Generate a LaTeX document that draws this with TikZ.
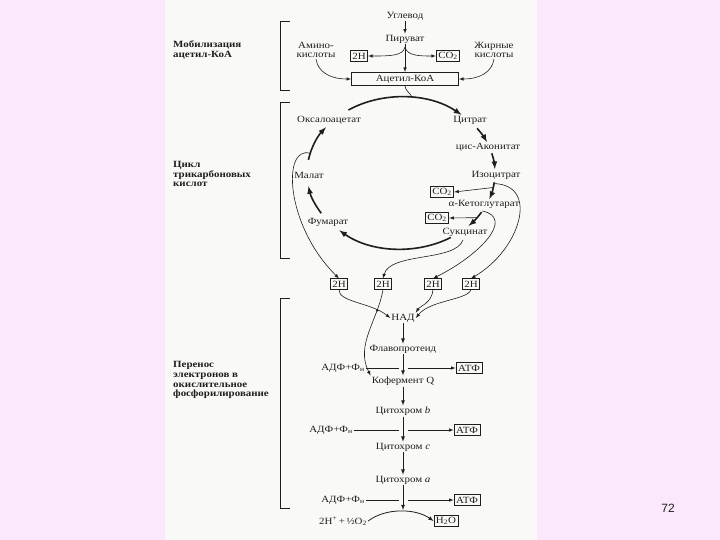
\documentclass[tikz,border=0pt]{standalone}
\usepackage{fontspec}
\setmainfont[FakeStretch=1.15]{Liberation Serif}
\newfontfamily\pagenumfont{Liberation Sans}
\usetikzlibrary{calc,intersections}
\definecolor{pagebg}{RGB}{252,232,252}
\definecolor{sheet}{RGB}{249,249,247}
\definecolor{ink}{RGB}{30,30,30}

\begin{document}
\begin{tikzpicture}[x=1pt, y=-1pt, >=latex,
	every node/.style={font=\fontsize{9.5}{9.5}\selectfont, text=ink, inner sep=1pt},
	lbl/.style={align=left, anchor=west, font=\bfseries\fontsize{9.5}{9.8}\selectfont},
	box/.style={draw=ink, line width=0.8pt, inner sep=2pt},
	thinline/.style={draw=ink, line width=0.6pt},
	thinarrow/.style={thinline, ->},
	cyc/.style={draw=ink, line width=1.6pt, ->},
	chain/.style={draw=ink, line width=0.8pt, ->},
	bracket/.style={draw=ink, line width=0.8pt}]
	% page
	\fill [pagebg] (0,0) rectangle (720,540);
	\fill [sheet] (165,0) rectangle (537,540);
	\node [font=\pagenumfont\fontsize{12}{12}\selectfont] (pnum) at (668,508) {72};

	% left labels and brackets
	\node [lbl] (lab1) at (172,50) {Мобилизация\\ацетил-КоА};
	\node [lbl] (lab2) at (172,174) {Цикл\\трикарбоновых\\кислот};
	\node [lbl] (lab3) at (172,380) {Перенос\\электронов в\\окислительное\\фосфорилирование};
	\draw [bracket] (290,21) -- (280,21) -- (280,90) -- (290,90);
	\draw [bracket] (290,102) -- (280,102) -- (280,258) -- (290,258);
	\draw [bracket] (290,298) -- (280,298) -- (280,508) -- (290,508);

	% mobilization of acetyl-CoA
	\node (uglevod) at (405,16) {Углевод};
	\node (piruvat) at (405,39) {Пируват};
	\node [align=center] (amino) at (316,50) {Амино-\\кислоты};
	\node [box] (h2top) at (359,56) {2H};
	\node [box] (co2top) at (448,56) {CO\textsubscript{2}};
	\node [align=center] (zhir) at (494,50) {Жирные\\кислоты};
	\node [box, minimum width=107pt, minimum height=13pt] (acoa) at (405,79) {Ацетил-КоА};
	\coordinate (fork) at (405,47);
	\draw [thinarrow] (uglevod) -- (piruvat);
	\draw [thinarrow] (piruvat) -- (acoa);
	\draw [thinarrow] (fork) .. controls (403,56) and (390,56) .. (h2top.east);
	\draw [thinarrow] (fork) .. controls (407,56) and (420,56) .. (co2top.west);
	\draw [thinarrow] (amino.south) .. controls (318,72) and (330,79) .. (acoa.west);
	\draw [thinarrow] (zhir.south) .. controls (492,72) and (480,79) .. (acoa.east);

	% citric acid cycle
	\coordinate (cc) at (401,173);
	\coordinate (cyctop) at ($(cc)+(277:94 and 76)$);
	\draw [thinline] (acoa.south) .. controls (405,90) and (410,93) .. (cyctop);
	\node (oxa) at (329,120) {Оксалоацетат};
	\node (citr) at (470,120) {Цитрат};
	\node (cisac) at (488,147) {цис-Аконитат};
	\node (iso) at (496,175) {Изоцитрат};
	\node (akg) at (484,204) {α-Кетоглутарат};
	\node (succ) at (465,232) {Сукцинат};
	\node (fum) at (328,222) {Фумарат};
	\node (mal) at (309,175) {Малат};
	\foreach \a/\b in {236/310, 324/336, 345/357, 7/20, 31/44, 58/131, 148/170, 190/217}
		\draw [cyc] ($(cc)+(\a:94 and 76)$) arc [start angle=\a, end angle=\b, x radius=94, y radius=76];
	\node [box] (co2a) at (442,192) {CO\textsubscript{2}};
	\node [box] (co2b) at (437,218) {CO\textsubscript{2}};
	\coordinate (isoco2) at ($(cc)+(11:94 and 76)$);
	\coordinate (akgco2) at ($(cc)+(36:94 and 76)$);
	\draw [thinarrow] (isoco2) -- (co2a.east);
	\draw [thinarrow] (akgco2) -- (co2b.east);

	% hydrogen pairs
	\node [box] (h2a) at (339,284) {2H};
	\node [box] (h2b) at (383,284) {2H};
	\node [box] (h2c) at (433,284) {2H};
	\node [box] (h2d) at (471,284) {2H};
	\coordinate (malout) at ($(cc)+(195:94 and 76)$);
	\coordinate (succout) at (463,240);
	\coordinate (akgout) at ($(cc)+(30:94 and 76)$);
	\coordinate (isoout) at ($(cc)+(8:94 and 76)$);
	\draw [thinarrow] (malout) .. controls (282,145) and (285,225) .. (h2a.north);
	\draw [thinarrow] (succout) .. controls (455,262) and (390,252) .. (h2b.north);
	\draw [thinarrow] (akgout) .. controls (515,218) and (480,255) .. (h2c.north);
	\draw [thinarrow] (isoout) .. controls (540,185) and (520,250) .. (h2d.north);

	% electron transport chain
	\node (nad) at (403,318) {НАД};
	\node (flavo) at (403,349) {Флавопротеид};
	\node (coq) at (403,381) {Кофермент Q};
	\node (cytb) at (403,411) {Цитохром \textit{b}};
	\node (cytc) at (403,447) {Цитохром \textit{c}};
	\node (cyta) at (403,480) {Цитохром \textit{a}};
	\draw [thinarrow, name path=lnad] (h2a.south) .. controls (338,302) and (372,303) .. (nad.west);
	\draw [thinarrow, name path=lcoq] (h2b.south) .. controls (378,320) and (355,345) .. (coq.north west);
	\fill [ink, name intersections={of=lnad and lcoq, by=jn}] (jn) circle (1.3);
	\draw [thinarrow] (h2c.south) .. controls (432,303) and (420,306) .. (nad.north east);
	\draw [thinarrow] (h2d.south) .. controls (468,300) and (430,300) .. (nad.east);
	\draw [chain] (nad) -- (flavo);
	\draw [chain] (flavo) -- (coq);
	\draw [chain] (coq) -- (cytb);
	\draw [chain] (cytb) -- (cytc);
	\draw [chain] (cytc) -- (cyta);

	% phosphorylation sites
	\node (adp1) at (343,368) {АДФ+Ф\textsubscript{н}};
	\node [box] (atp1) at (469,368) {АТФ};
	\node (adp2) at (331,430) {АДФ+Ф\textsubscript{н}};
	\node [box] (atp2) at (467,430) {АТФ};
	\node (adp3) at (343,500) {АДФ+Ф\textsubscript{н}};
	\node [box] (atp3) at (467,500) {АТФ};
	\coordinate (ax1) at (403,368);
	\coordinate (ax2) at (403,430);
	\coordinate (ax3) at (403,500);
	\draw [thinline] (adp1.east) -- ([xshift=-4pt]ax1);
	\draw [thinarrow] ([xshift=5pt]ax1) -- (atp1.west);
	\draw [thinline] (adp2.east) -- ([xshift=-4pt]ax2);
	\draw [thinarrow] ([xshift=5pt]ax2) -- (atp2.west);
	\draw [thinline] (adp3.east) -- ([xshift=-4pt]ax3);
	\draw [thinarrow] ([xshift=5pt]ax3) -- (atp3.west);

	% water
	\node (o2) at (343,521) {2H\textsuperscript{+}\,+\,½O\textsubscript{2}};
	\node [box] (h2o) at (446,521) {H\textsubscript{2}O};
	\coordinate (o2top) at (403,510);
	\draw [chain] (cyta) -- (o2top);
	\draw [chain] (o2.east) .. controls (385,508) and (415,508) .. (h2o.west);
\end{tikzpicture}
\end{document}
